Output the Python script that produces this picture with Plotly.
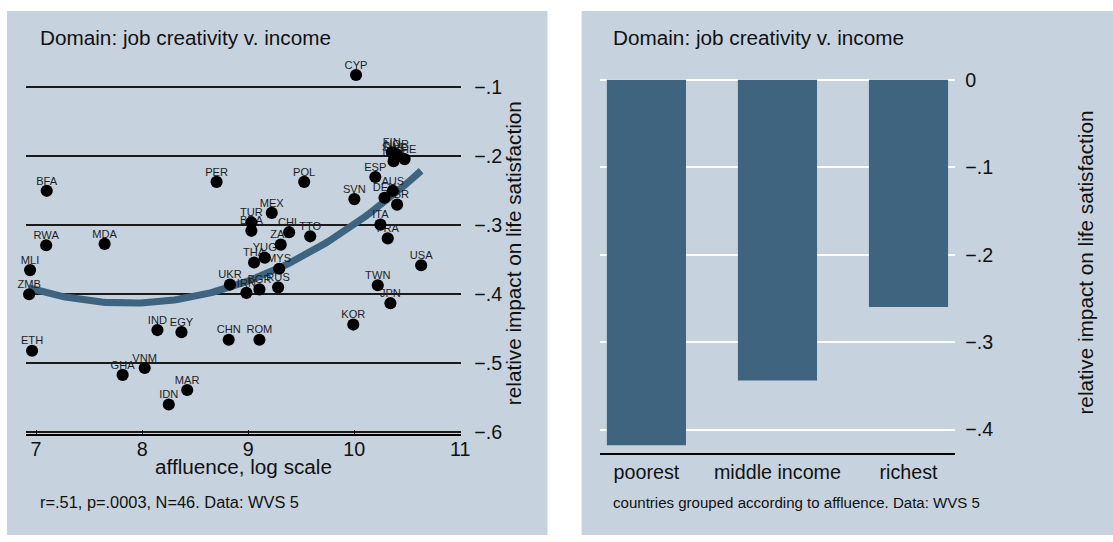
import numpy as np
import plotly.graph_objects as go

# ---- country-level data: log affluence vs. relative impact of job creativity ----
countries = ["CYP", "BFA", "PER", "RWA", "MDA", "MLI", "ZMB", "ETH", "IND", "EGY",
             "CHN", "ROM", "GHA", "VNM", "MAR", "IDN", "UKR", "IRN", "BGR", "RUS",
             "MYS", "THA", "YUG", "ZAF", "CHL", "TTO", "MEX", "TUR", "BRA", "POL",
             "SVN", "ESP", "AUS", "DEU", "GBR", "ITA", "FRA", "USA", "TWN", "JPN",
             "KOR", "FIN", "NOR", "SWE", "NLD", "CHE"]
affluence = [10.017, 7.100, 8.702, 7.095, 7.646, 6.943, 6.934, 6.962, 8.144, 8.371,
             8.816, 9.106, 7.816, 8.024, 8.425, 8.251, 8.828, 8.983, 9.106, 9.282,
             9.292, 9.055, 9.156, 9.307, 9.386, 9.585, 9.222, 9.030, 9.030, 9.528,
             10.001, 10.199, 10.364, 10.285, 10.404, 10.247, 10.316, 10.631, 10.222, 10.341,
             9.991, 10.354, 10.400, 10.379, 10.371, 10.475]
impact = [-0.082, -0.250, -0.237, -0.329, -0.327, -0.365, -0.400, -0.482, -0.452, -0.455,
          -0.466, -0.466, -0.517, -0.507, -0.539, -0.560, -0.386, -0.398, -0.393, -0.390,
          -0.363, -0.354, -0.347, -0.328, -0.310, -0.316, -0.282, -0.296, -0.308, -0.237,
          -0.262, -0.230, -0.250, -0.260, -0.270, -0.299, -0.319, -0.358, -0.387, -0.413,
          -0.444, -0.194, -0.197, -0.201, -0.207, -0.204]

x_ticks = [7, 8, 9, 10, 11]
y_ticks_left = [-0.6, -0.5, -0.4, -0.3, -0.2, -0.1]

# ---- grouped means ----
groups = ["poorest", "middle income", "richest"]
group_impact = [-0.418, -0.344, -0.260]
y_ticks_right = [-0.4, -0.3, -0.2, -0.1, 0.0]

# layout is designed on a 1113 x 542 grid, rendered slightly larger
W, H = 1113, 542
K = 1.0 / 0.989
FIG_W, FIG_H = round(W * K), round(H * K)
PANEL = "#c6d3df"
BLUE = "#3e6480"
FONT = "Liberation Sans, Arial, sans-serif"


def px_x(p):
    return p / W


def px_y(p):
    return (H - p) / H


def sz(v):
    return v * K


def stata_label(v):
    if v == 0:
        return "0"
    s = f"{abs(v):.1f}".lstrip("0")
    return ("\u2212" if v < 0 else "") + s


# quadratic fit over the observed range of affluence
coef = np.polyfit(affluence, impact, 2)
fit_x = np.linspace(min(affluence), max(affluence), 120)
fit_y = np.polyval(coef, fit_x)

fig = go.Figure()

fig.add_trace(go.Scatter(x=fit_x, y=fit_y, mode="lines",
                         line=dict(color=BLUE, width=sz(7)),
                         hoverinfo="skip", xaxis="x", yaxis="y"))
fig.add_trace(go.Scatter(x=affluence, y=impact, mode="markers+text", text=countries,
                         textposition="top center", cliponaxis=False,
                         textfont=dict(family=FONT, size=sz(11), color="#1e1e1e"),
                         marker=dict(size=sz(4), color="rgba(0,0,0,0)"),
                         hoverinfo="skip", xaxis="x", yaxis="y"))
fig.add_trace(go.Scatter(x=affluence, y=impact, mode="markers", cliponaxis=False,
                         marker=dict(size=sz(12), color="black"),
                         xaxis="x", yaxis="y"))

fig.add_trace(go.Bar(x=[0, 1, 2], y=group_impact, width=0.604,
                     marker=dict(color=BLUE, line=dict(width=0)),
                     xaxis="x2", yaxis="y2"))

shapes = [
    dict(type="rect", xref="paper", yref="paper", layer="below",
         x0=px_x(7), x1=px_x(546), y0=px_y(538), y1=px_y(7),
         fillcolor=PANEL, line=dict(width=0)),
    dict(type="rect", xref="paper", yref="paper", layer="below",
         x0=px_x(580), x1=px_x(1110), y0=px_y(538), y1=px_y(7),
         fillcolor=PANEL, line=dict(width=0)),
]

title_font = dict(family=FONT, size=sz(20.5), color="#111")
annotations = [
    dict(text="Domain: job creativity v. income", x=px_x(38), y=px_y(34),
         xref="paper", yref="paper", xanchor="left", yanchor="middle",
         showarrow=False, font=title_font),
    dict(text="Domain: job creativity v. income", x=px_x(609), y=px_y(34),
         xref="paper", yref="paper", xanchor="left", yanchor="middle",
         showarrow=False, font=title_font),
    dict(text="r=.51, p=.0003, N=46. Data: WVS 5", x=px_x(38), y=px_y(505),
         xref="paper", yref="paper", xanchor="left", yanchor="middle",
         showarrow=False, font=dict(family=FONT, size=sz(16.2), color="#111")),
    dict(text="countries grouped according to affluence. Data: WVS 5",
         x=px_x(609), y=px_y(505), xref="paper", yref="paper",
         xanchor="left", yanchor="middle", showarrow=False,
         font=dict(family=FONT, size=sz(14.9), color="#111")),
    dict(text="affluence, log scale", x=px_x(243), y=px_y(469),
         xref="paper", yref="paper", xanchor="center", yanchor="middle",
         showarrow=False, font=title_font),
    dict(text="relative impact on life satisfaction", x=px_x(512), y=px_y(252),
         xref="paper", yref="paper", xanchor="center", yanchor="middle",
         textangle=-90, showarrow=False, font=title_font),
    dict(text="relative impact on life satisfaction", x=px_x(1083), y=px_y(262),
         xref="paper", yref="paper", xanchor="center", yanchor="middle",
         textangle=-90, showarrow=False, font=title_font),
]

tick_font = dict(family=FONT, size=sz(19.5), color="#111")

fig.update_layout(
    width=FIG_W, height=FIG_H,
    margin=dict(l=0, r=0, t=0, b=0),
    paper_bgcolor="white",
    plot_bgcolor="rgba(0,0,0,0)",
    showlegend=False,
    shapes=shapes,
    annotations=annotations,
    xaxis=dict(domain=[px_x(26), px_x(460)], range=[6.9054, 11.009],
               tickvals=x_ticks, ticktext=[str(v) for v in x_ticks],
               ticks="inside", ticklen=sz(5), tickwidth=1.2, tickcolor="black",
               ticklabelstandoff=-4,
               showline=True, linecolor="black", linewidth=1.5,
               showgrid=False, zeroline=False, tickfont=tick_font,
               anchor="y"),
    yaxis=dict(domain=[px_y(436), px_y(60)], range=[-0.6033, -0.0649],
               side="right", anchor="x",
               tickvals=y_ticks_left, ticktext=[stata_label(v) for v in y_ticks_left],
               ticks="outside", ticklen=sz(8), tickcolor="rgba(0,0,0,0)",
               showgrid=True, gridcolor="#1a1a1a", gridwidth=1.5,
               showline=False, zeroline=False, tickfont=tick_font),
    xaxis2=dict(domain=[px_x(598.3), px_x(952.7)], range=[-0.355, 2.357],
                tickvals=[0, 1, 2], ticktext=groups,
                ticks="", showline=True, linecolor="black", linewidth=1.5,
                showgrid=False, zeroline=False, tickfont=tick_font,
                anchor="y2"),
    yaxis2=dict(domain=[px_y(455), px_y(70)], range=[-0.42698, 0.00756],
                side="right", anchor="x2",
                tickvals=y_ticks_right, ticktext=[stata_label(v) for v in y_ticks_right],
                ticks="outside", ticklen=sz(5), tickcolor="rgba(0,0,0,0)",
                showgrid=True, gridcolor="white", gridwidth=1.5,
                showline=False, zeroline=False, tickfont=tick_font),
)

fig.write_html("out.html", config={"responsive": False},
               post_script="document.body.style.margin='0px';")
